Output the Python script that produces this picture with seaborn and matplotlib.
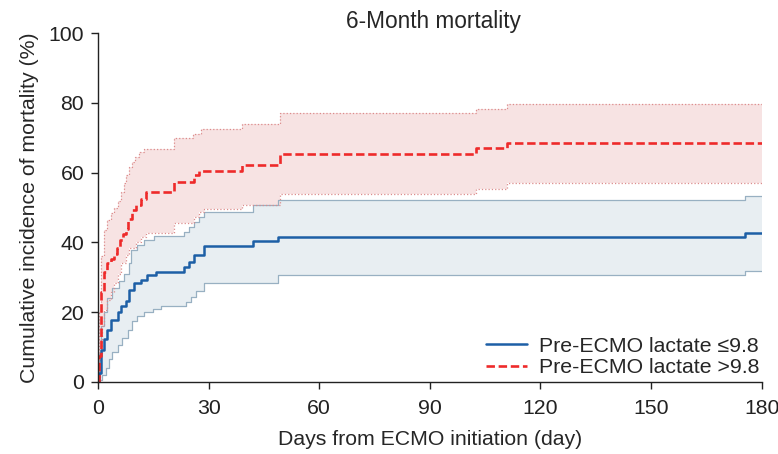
import numpy as np
import pandas as pd
import matplotlib
matplotlib.use('Agg')
import matplotlib.pyplot as plt
import seaborn as sns

# step points (day, cumulative %)
low_t = [0, 0.3, 0.7, 1.6, 2.5, 3.4, 5.3, 6.2, 7.5, 8.4, 9.8, 11.6, 13.4, 15.7,
         23.4, 24.7, 26.1, 28.8, 42.1, 48.9, 175.6, 180]
low_v = [0, 2.7, 9.3, 12.2, 15.0, 17.9, 20.2, 21.7, 23.1, 26.4, 28.3, 29.2, 30.7, 31.6,
         33.0, 34.5, 36.4, 38.9, 40.3, 41.5, 42.6, 42.6]
low_up_t = [0, 0.3, 0.7, 1.6, 2.5, 3.9, 5.7, 7.1, 8.4, 8.9, 10.7, 12.5, 15.2, 23.4,
            24.7, 26.1, 27.5, 28.8, 42.1, 48.9, 175.6, 180]
low_up_v = [0, 8, 16, 20, 24, 27, 29, 31, 34, 37.8, 39.2, 40.6, 41.8, 43.0,
            44.4, 45.9, 47.3, 48.7, 50.8, 52.1, 53.3, 53.3]
low_lo_t = [0, 0.3, 1.2, 2.1, 3.0, 3.9, 5.3, 6.6, 8.0, 9.3, 10.7, 12.5, 14.8, 17.0,
            23.8, 25.2, 26.6, 28.8, 48.9, 175.6, 180]
low_lo_v = [0, 0.5, 2, 4, 6.5, 8.5, 10.5, 12.5, 15, 17.5, 19, 20, 21, 21.8,
            23, 24.5, 26, 28.3, 30.8, 31.8, 31.8]

high_t = [0, 0.3, 0.7, 1.6, 2.5, 3.4, 4.4, 5.1, 6.0, 6.9, 7.5, 8.0, 9.3, 10.2, 11.6,
          13.0, 20.7, 26.1, 27.5, 39.0, 49.3, 102.6, 110.8, 180]
high_v = [0, 7.4, 25.9, 31.6, 34.0, 35.4, 36.8, 38.3, 40.6, 42.5, 44.0, 46.8, 49.2, 50.6, 52.5,
          54.4, 57.3, 59.2, 60.6, 62.2, 65.3, 67.0, 68.4, 68.4]
high_up_t = [0, 0.3, 0.7, 1.6, 2.5, 3.4, 4.4, 5.3, 6.2, 7.0, 7.5, 8.4, 9.1, 10.0, 11.2,
             12.5, 20.7, 25.7, 27.9, 39.0, 49.3, 102.6, 110.8, 180]
high_up_v = [0, 20, 36, 43.6, 46.5, 48.4, 50, 52, 54.5, 57, 59.3, 61.7, 63, 64.5, 66,
             66.9, 69.8, 71.2, 72.4, 74.0, 77.0, 78.2, 79.7, 79.7]
high_lo_t = [0, 0.5, 1.0, 1.6, 2.5, 3.4, 4.4, 5.3, 6.2, 7.5, 8.4, 10.2, 11.6, 13.0,
             20.7, 26.1, 27.5, 28.8, 39.0, 49.3, 102.6, 110.8, 180]
high_lo_v = [0, 8, 16, 20.7, 23.5, 25.9, 28.3, 31.1, 34.0, 36.4, 38.3, 40.2, 41.6, 42.7,
             45.7, 47.4, 48.7, 49.7, 50.8, 53.8, 55.4, 57.1, 57.1]

labels = ['Pre-ECMO lactate \u22649.8', 'Pre-ECMO lactate >9.8']

sns.set_style('ticks')
plt.rcParams['font.family'] = ['Liberation Sans', 'DejaVu Sans']
fs = 15.3

fig = plt.figure(figsize=(7.78, 4.54), dpi=100)
ax = fig.add_axes([0.126, 0.1586, 0.853, 0.7684])


def band(t_lo, v_lo, t_up, v_up, fill, edge, ls):
    # put both bounds on a common time grid for the shaded area
    grid = np.union1d(t_lo, t_up)
    lo = pd.Series(v_lo, index=t_lo).reindex(grid).ffill().values
    up = pd.Series(v_up, index=t_up).reindex(grid).ffill().values
    ax.fill_between(grid, lo, up, step='post', color=fill, lw=0)
    for t, v in ((t_lo, v_lo), (t_up, v_up)):
        sns.lineplot(x=t, y=v, ax=ax, color=edge, lw=0.9, ls=ls,
                     drawstyle='steps-post', estimator=None, sort=False)


band(low_lo_t, low_lo_v, low_up_t, low_up_v, '#e8eef2', '#98b0c2', '-')
band(high_lo_t, high_lo_v, high_up_t, high_up_v, '#f7e3e3', '#dc8c8c', ':')

sns.lineplot(x=low_t, y=low_v, ax=ax, color='#1d5fa6', lw=1.8,
             drawstyle='steps-post', estimator=None, sort=False, label=labels[0])
sns.lineplot(x=high_t, y=high_v, ax=ax, color='#ee2a2a', lw=1.9, dashes=False,
             drawstyle='steps-post', estimator=None, sort=False, label=labels[1])
ax.lines[-1].set_dashes((3.2, 1.4))

ax.set_xlim(0, 180)
ax.set_ylim(0, 100)
ax.set_xticks(range(0, 181, 30))
ax.set_yticks(range(0, 101, 20))
ax.tick_params(length=5, width=1, colors='#222222', labelsize=fs)
ax.tick_params(axis='x', pad=7)
ax.tick_params(axis='y', pad=5)
for s in ['left', 'bottom']:
    ax.spines[s].set_color('#222222')
    ax.spines[s].set_linewidth(1)
sns.despine(ax=ax)

ax.set_xlabel('Days from ECMO initiation (day)', fontsize=fs, labelpad=9)
ax.set_ylabel('Cumulative incidence of mortality (%)', fontsize=fs, labelpad=7)
ax.set_title('6-Month mortality', fontsize=16.3, pad=3, x=0.506)

leg = ax.legend(loc='lower right', frameon=False, fontsize=fs, handlelength=1.9,
                handletextpad=0.6, labelspacing=0.1, borderaxespad=0,
                bbox_to_anchor=(1.01, -0.01))

fig.savefig('out.png', dpi=100)
